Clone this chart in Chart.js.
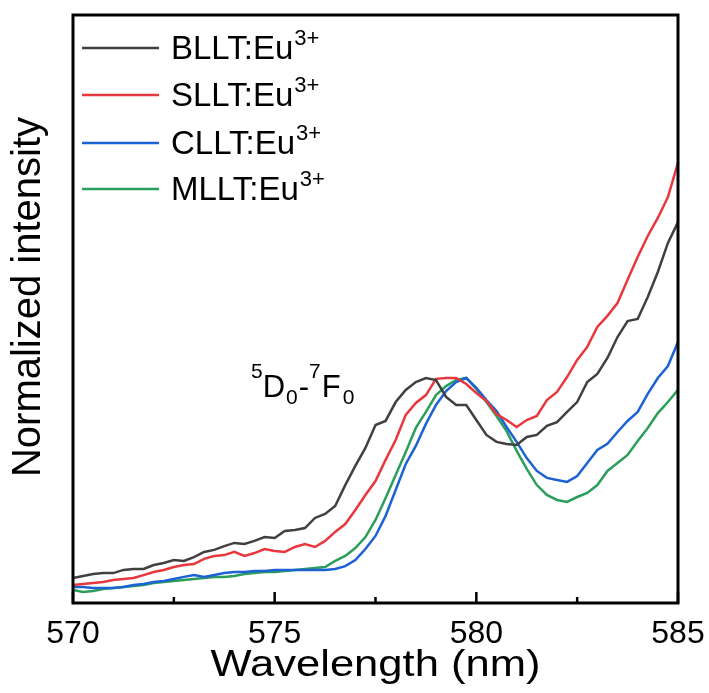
<!DOCTYPE html>
<html>
<head>
<meta charset="utf-8">
<script src="https://cdn.jsdelivr.net/npm/chart.js@4.4.1/dist/chart.umd.min.js"></script>
<style>
  html, body { margin: 0; padding: 0; background: #fff; }
  #wrap { width: 709px; height: 693px; }
</style>
</head>
<body>
<div id="wrap"><canvas id="myChart" width="709" height="693"></canvas></div>
<script>
// wavelength grid (nm)
var wavelength = [
    570.00, 570.25, 570.50, 570.75, 571.00, 571.25, 571.50, 571.75, 572.00, 572.25,
    572.50, 572.75, 573.00, 573.25, 573.50, 573.75, 574.00, 574.25, 574.50, 574.75,
    575.00, 575.25, 575.50, 575.75, 576.00, 576.25, 576.50, 576.75, 577.00, 577.25,
    577.50, 577.75, 578.00, 578.25, 578.50, 578.75, 579.00, 579.25, 579.50, 579.75,
    580.00, 580.25, 580.50, 580.75, 581.00, 581.25, 581.50, 581.75, 582.00, 582.25,
    582.50, 582.75, 583.00, 583.25, 583.50, 583.75, 584.00, 584.25, 584.50, 584.75,
    585.00
];

// normalized intensity of each sample (5D0-7F0 peak = 1)
var bllt = [
    0.111, 0.120, 0.129, 0.133, 0.133, 0.147, 0.151, 0.151, 0.169, 0.178,
    0.191, 0.187, 0.204, 0.227, 0.236, 0.253, 0.267, 0.262, 0.276, 0.293,
    0.289, 0.320, 0.324, 0.333, 0.378, 0.396, 0.431, 0.524, 0.609, 0.689,
    0.791, 0.809, 0.893, 0.947, 0.982, 1.000, 0.991, 0.916, 0.880, 0.880,
    0.813, 0.747, 0.716, 0.707, 0.702, 0.738, 0.747, 0.787, 0.804, 0.849,
    0.893, 0.982, 1.018, 1.089, 1.182, 1.253, 1.262, 1.360, 1.471, 1.600,
    1.693
];
var sllt = [
    0.080, 0.084, 0.089, 0.093, 0.102, 0.107, 0.111, 0.124, 0.138, 0.147,
    0.160, 0.169, 0.173, 0.196, 0.209, 0.213, 0.227, 0.209, 0.222, 0.240,
    0.231, 0.227, 0.249, 0.262, 0.249, 0.276, 0.316, 0.351, 0.413, 0.480,
    0.542, 0.636, 0.724, 0.836, 0.889, 0.924, 0.996, 1.000, 1.000, 0.973,
    0.933, 0.898, 0.840, 0.813, 0.782, 0.813, 0.831, 0.902, 0.938, 1.004,
    1.080, 1.138, 1.227, 1.276, 1.333, 1.436, 1.538, 1.631, 1.711, 1.804,
    1.956
];
var cllt = [
    0.071, 0.071, 0.067, 0.067, 0.067, 0.071, 0.080, 0.084, 0.093, 0.098,
    0.107, 0.116, 0.124, 0.116, 0.124, 0.133, 0.138, 0.138, 0.142, 0.142,
    0.147, 0.147, 0.147, 0.147, 0.147, 0.147, 0.151, 0.164, 0.191, 0.240,
    0.298, 0.387, 0.502, 0.618, 0.698, 0.796, 0.880, 0.942, 0.982, 1.000,
    0.956, 0.902, 0.853, 0.782, 0.716, 0.644, 0.587, 0.556, 0.547, 0.538,
    0.564, 0.622, 0.680, 0.707, 0.760, 0.809, 0.849, 0.929, 1.000, 1.053,
    1.160
];
var mllt = [
    0.058, 0.049, 0.053, 0.062, 0.067, 0.071, 0.076, 0.080, 0.089, 0.093,
    0.098, 0.102, 0.107, 0.111, 0.116, 0.116, 0.120, 0.129, 0.133, 0.138,
    0.138, 0.142, 0.147, 0.151, 0.156, 0.160, 0.187, 0.209, 0.244, 0.293,
    0.369, 0.467, 0.569, 0.671, 0.778, 0.849, 0.924, 0.964, 0.991, 1.000,
    0.951, 0.893, 0.831, 0.764, 0.676, 0.596, 0.524, 0.480, 0.458, 0.449,
    0.471, 0.489, 0.524, 0.587, 0.622, 0.658, 0.720, 0.778, 0.844, 0.893,
    0.947
];

var seriesNames = ['BLLT:Eu', 'SLLT:Eu', 'CLLT:Eu', 'MLLT:Eu'];
var seriesColors = ['#404040', '#e8383d', '#1c62d4', '#2b9e5c'];
var majorTicks = [570, 575, 580, 585];
var minorTicks = [572.5, 577.5, 582.5];
var xTitle = 'Wavelength (nm)';
var yTitle = 'Normalized intensity';

var FONT = '"Liberation Sans", Arial, sans-serif';

function toPoints(ys) {
    return ys.map(function (y, i) { return { x: wavelength[i], y: y }; });
}

// draws a run of text pieces with their own size and vertical shift
function richText(ctx, x, y, parts) {
    parts.forEach(function (p) {
        ctx.font = p.size + 'px ' + FONT;
        ctx.fillText(p.t, x + (p.dx || 0), y + (p.dy || 0));
        x += ctx.measureText(p.t).width + (p.dx || 0);
    });
    return x;
}

// box frame, inward ticks, axis titles, legend and transition label
var decorations = {
    id: 'decorations',
    afterDatasetsDraw: function (chart) {
        var ctx = chart.ctx;
        var a = chart.chartArea;
        var xs = chart.scales.x;
        ctx.save();
        ctx.strokeStyle = '#000';
        ctx.lineWidth = 3;
        ctx.strokeRect(a.left, a.top, a.right - a.left, a.bottom - a.top);

        ctx.lineWidth = 2.5;
        majorTicks.forEach(function (v) {
            var px = xs.getPixelForValue(v);
            ctx.beginPath();
            ctx.moveTo(px, a.bottom);
            ctx.lineTo(px, a.bottom - 11);
            ctx.stroke();
        });
        minorTicks.forEach(function (v) {
            var px = xs.getPixelForValue(v);
            ctx.beginPath();
            ctx.moveTo(px, a.bottom);
            ctx.lineTo(px, a.bottom - 6);
            ctx.stroke();
        });

        ctx.fillStyle = '#000';
        ctx.textBaseline = 'alphabetic';

        // axis titles
        var midX = (a.left + a.right) / 2;
        ctx.font = '36px ' + FONT;
        ctx.textAlign = 'center';
        var w = ctx.measureText(xTitle).width;
        ctx.save();
        ctx.translate(midX, 676);
        ctx.scale(330 / w, 1);
        ctx.fillText(xTitle, 0, 0);
        ctx.restore();

        ctx.font = '40px ' + FONT;
        ctx.save();
        ctx.translate(40, 297);
        ctx.rotate(-Math.PI / 2);
        ctx.fillText(yTitle, 0, 0);
        ctx.restore();

        // legend
        ctx.textAlign = 'left';
        var rowY = [48, 95, 143, 189];
        seriesNames.forEach(function (name, i) {
            ctx.strokeStyle = seriesColors[i];
            ctx.lineWidth = 2.5;
            ctx.beginPath();
            ctx.moveTo(82, rowY[i]);
            ctx.lineTo(159, rowY[i]);
            ctx.stroke();
            richText(ctx, 171, rowY[i] + 11, [
                { t: name, size: 33 },
                { t: '3+', size: 22, dy: -14, dx: 1 }
            ]);
        });

        // 5D0-7F0 transition label
        richText(ctx, 251, 397, [
            { t: '5', size: 21, dy: -19 },
            { t: 'D', size: 31 },
            { t: '0', size: 21, dy: 7, dx: 1 },
            { t: '-', size: 31, dx: 1 },
            { t: '7', size: 21, dy: -19 },
            { t: 'F', size: 31, dx: 1 },
            { t: '0', size: 21, dy: 7, dx: 2 }
        ]);
        ctx.restore();
    }
};

var ctx = document.getElementById('myChart').getContext('2d');
var myChart = new Chart(ctx, {
    type: 'line',
    data: {
        datasets: [bllt, sllt, cllt, mllt].map(function (ys, i) {
            return {
                label: seriesNames[i] + '3+',
                data: toPoints(ys),
                borderColor: seriesColors[i],
                borderWidth: 2.5,
                pointRadius: 0,
                tension: 0,
                fill: false
            };
        })
    },
    options: {
        responsive: false,
        animation: false,
        devicePixelRatio: 1,
        layout: { padding: { top: 15, right: 31, left: 0, bottom: 0 } },
        plugins: {
            legend: { display: false },
            tooltip: { enabled: false }
        },
        scales: {
            x: {
                type: 'linear',
                min: 570,
                max: 585,
                grid: { display: false, drawTicks: false },
                border: { display: false },
                ticks: {
                    stepSize: 5,
                    autoSkip: false,
                    maxRotation: 0,
                    padding: 12,
                    color: '#000',
                    font: { family: FONT, size: 32 }
                },
                afterFit: function (scale) {
                    scale.height = 90;
                    scale.paddingLeft = 0;
                    scale.paddingRight = 0;
                }
            },
            y: {
                min: 0,
                max: 2.613,
                grid: { display: false, drawTicks: false },
                border: { display: false },
                ticks: { display: false },
                afterFit: function (scale) { scale.width = 73; }
            }
        }
    },
    plugins: [decorations]
});
</script>
</body>
</html>
